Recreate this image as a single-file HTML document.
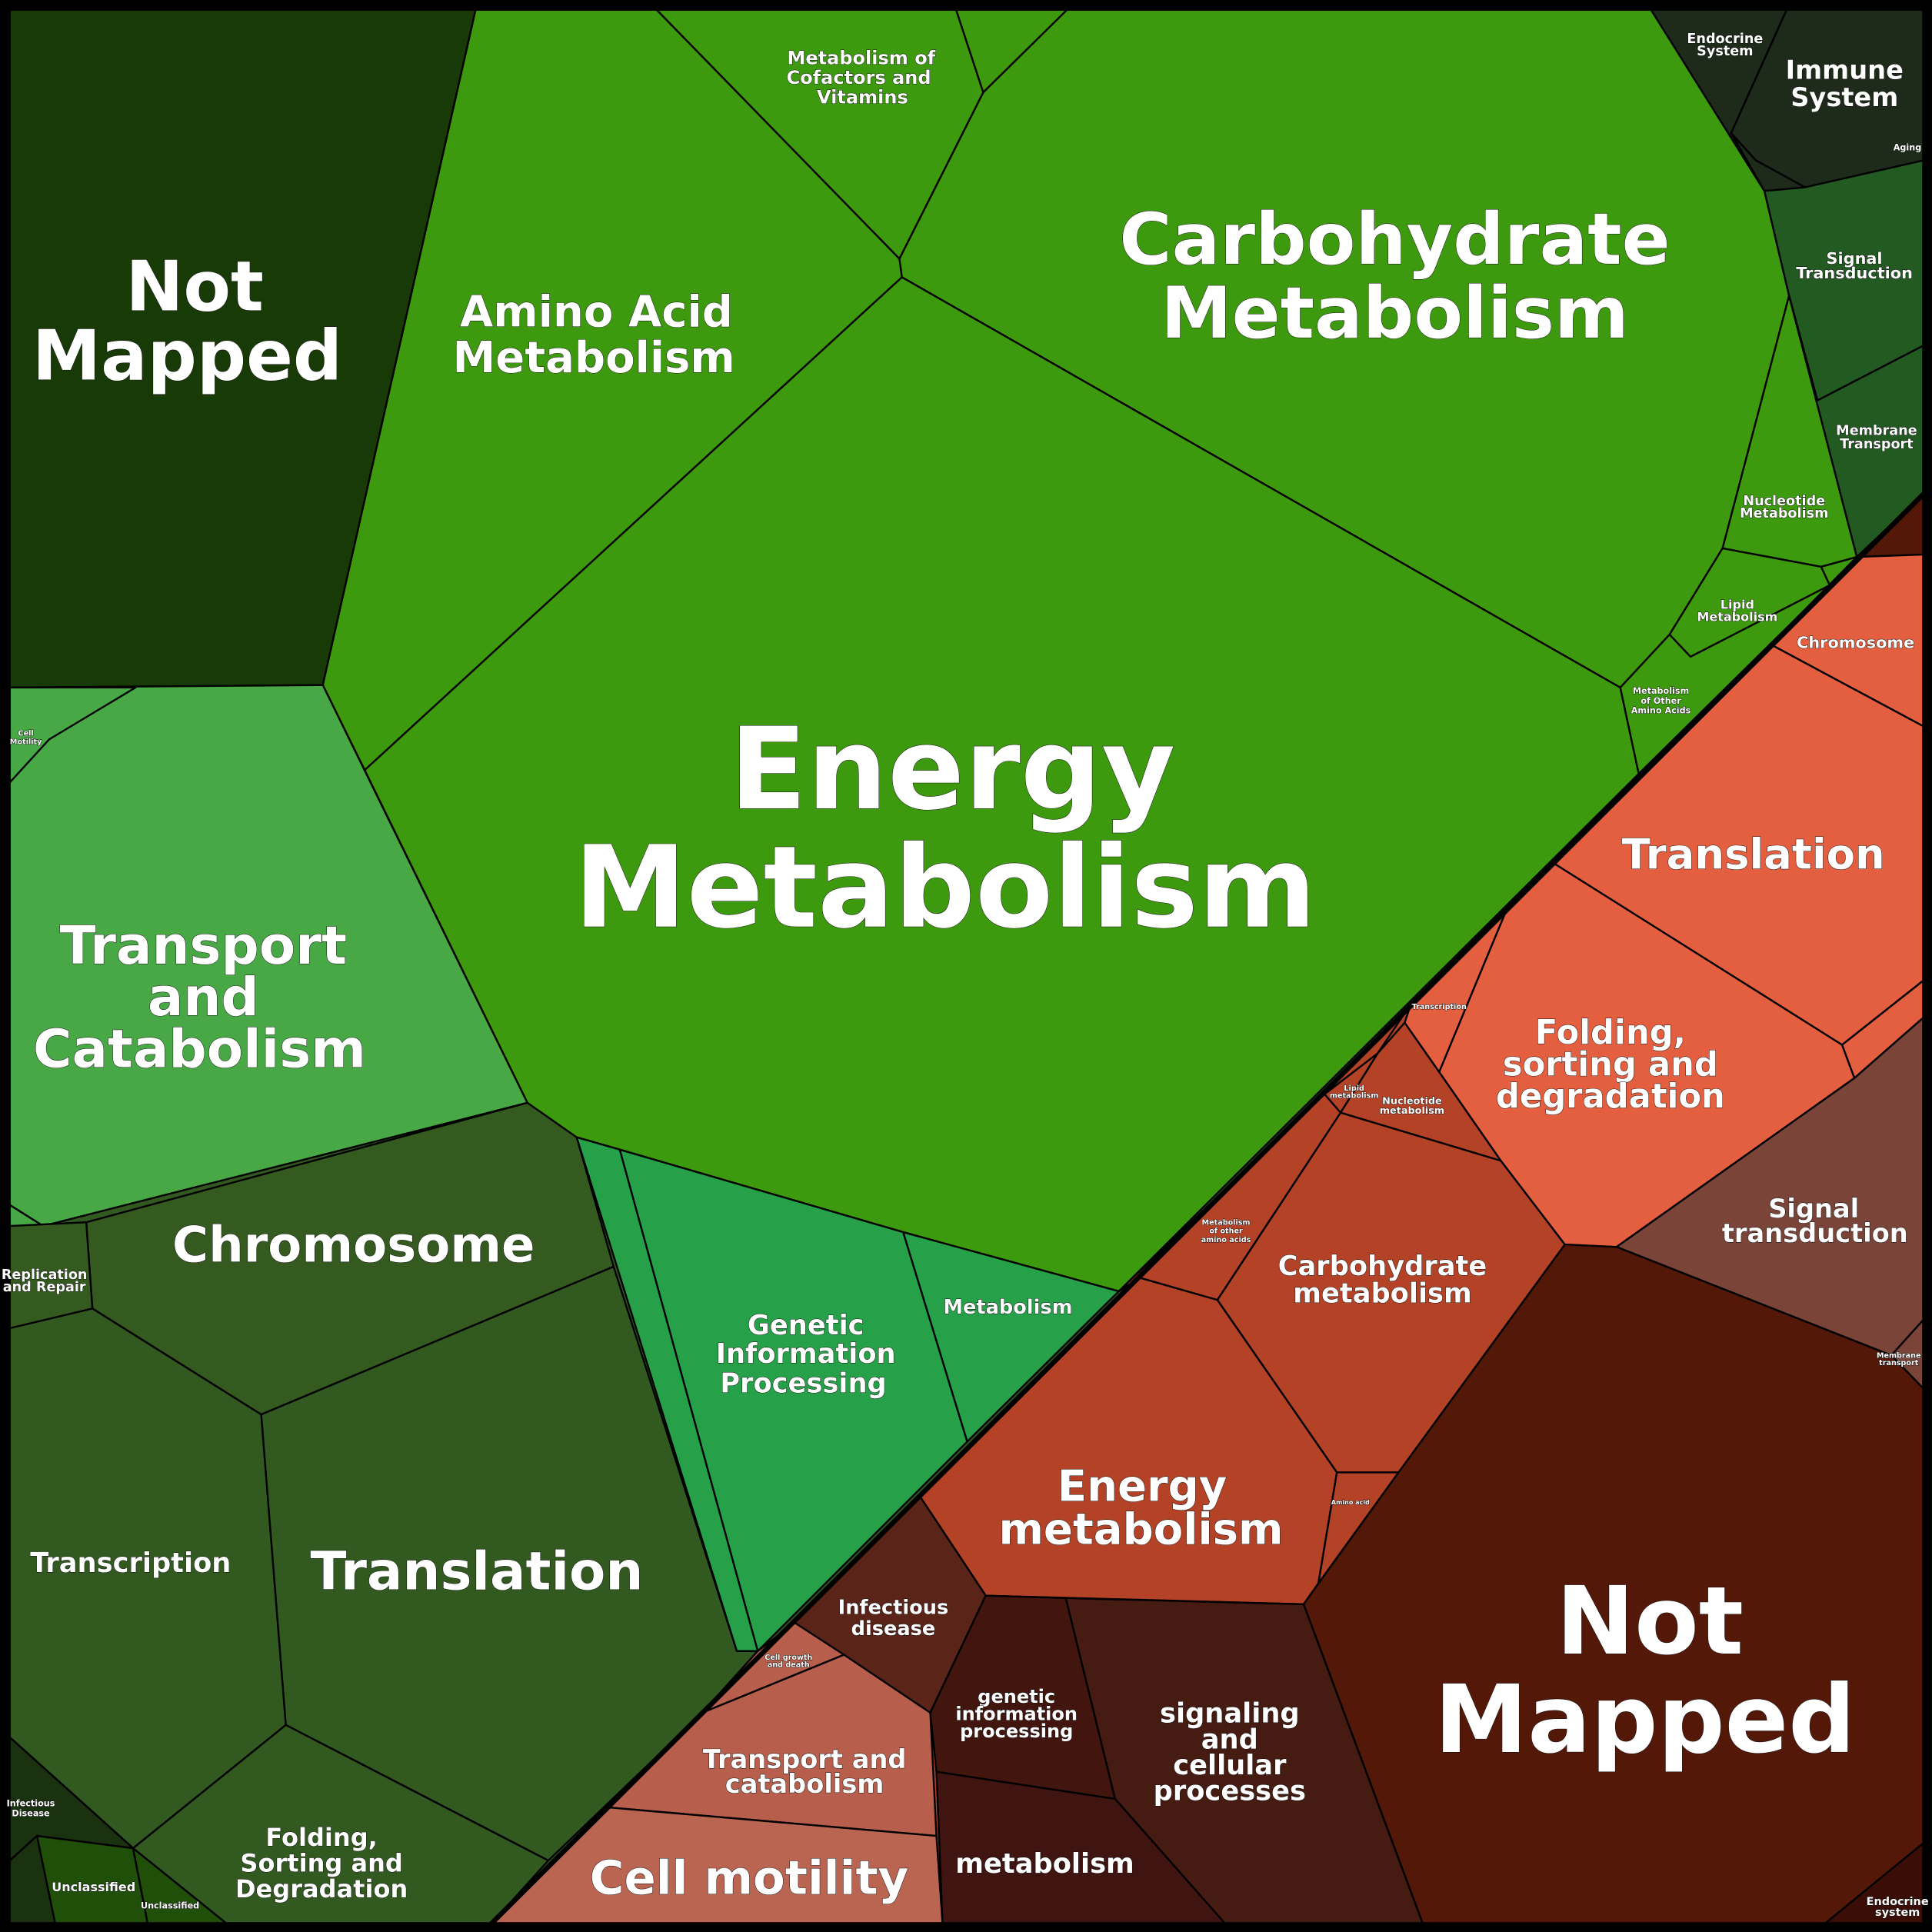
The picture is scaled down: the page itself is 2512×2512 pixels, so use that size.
<!DOCTYPE html>
<html><head><meta charset="utf-8"><style>
html,body{margin:0;padding:0;background:#000}
svg{display:block}
text{font-family:"DejaVu Sans","Liberation Sans",sans-serif;font-weight:bold;fill:#fff;text-anchor:middle;paint-order:stroke;stroke:#111;stroke-width:0.6px}
</style></head><body>
<svg width="2512" height="2512" viewBox="0 0 1568 1568" xmlns="http://www.w3.org/2000/svg">
<rect width="1568" height="1568" fill="#000"/>
<polygon fill="#325a20" points="8,8 1562,8 1562,400 398,1562 8,1562"/>
<polygon fill="#b34226" points="398,1562 1562,400 1562,1562"/>
<g stroke="#000" stroke-width="1.5" stroke-linejoin="round">
<!-- green -->
<polygon fill="#173a06" points="8,8 386,8 262,556 8,558"/>
<polygon fill="#3d9a0e" points="386,8 533,8 730,210 732,225 296,625 262,556"/>
<polygon fill="#3d9a0e" points="533,8 776,8 798,75 730,210"/>
<polygon fill="#3d9a0e" points="776,8 866,8 798,75"/>
<polygon fill="#3d9a0e" points="866,8 1340,8 1432,155 1452,240 1398,445 1355,515 1315,558 732,225 730,210 798,75"/>
<polygon fill="#3d9a0e" points="296,625 732,225 1315,558 1330,628 908,1048 733,1000 503,933 468,923 428,895"/>
<polygon fill="#3d9a0e" points="1452,240 1507,452 1478,460 1398,445"/>
<polygon fill="#3d9a0e" points="1478,460 1507,452 1485,475"/>
<polygon fill="#3d9a0e" points="1398,445 1478,460 1485,475 1372,533 1355,515"/>
<polygon fill="#3d9a0e" points="1355,515 1372,533 1485,475 1330,628 1315,558"/>
<polygon fill="#1e2a1a" points="1340,8 1450,8 1405,108 1432,155"/>
<polygon fill="#1e2a1a" points="1405,108 1425,130 1465,152 1432,155"/>
<polygon fill="#1e2a1a" points="1450,8 1562,8 1562,130 1465,152 1425,130 1405,108"/>
<polygon fill="#225a22" points="1432,155 1465,152 1562,130 1562,280 1475,325 1452,240"/>
<polygon fill="#225a22" points="1452,240 1475,325 1562,280 1562,400 1507,452"/>
<polygon fill="#48a845" points="8,558 262,556 428,895 35,995 8,978"/>
<polygon fill="#48a845" points="8,978 35,995 8,995"/>
<polygon fill="#48a845" points="8,558 110,558 40,600 8,635"/>
<polygon fill="#345a20" points="70,992 428,895 468,923 498,1028 212,1148 75,1062"/>
<polygon fill="#345a20" points="8,995 70,992 75,1062 8,1078"/>
<polygon fill="#325a20" points="8,1078 75,1062 212,1148 232,1400 108,1500 8,1410"/>
<polygon fill="#325a20" points="212,1148 498,1028 598,1340 615,1340 570,1390 445,1510 232,1400"/>
<polygon fill="#325a20" points="232,1400 445,1510 398,1562 185,1562 108,1500"/>
<polygon fill="#1a3210" points="8,1410 108,1500 30,1490 8,1510"/>
<polygon fill="#1a3210" points="8,1510 30,1490 45,1562 8,1562"/>
<polygon fill="#1f4f08" points="30,1490 108,1500 120,1562 45,1562"/>
<polygon fill="#1f4f08" points="108,1500 185,1562 120,1562"/>
<polygon fill="#27a04a" points="468,923 503,933 615,1340 598,1340"/>
<polygon fill="#27a04a" points="503,933 733,1000 785,1170 615,1340"/>
<polygon fill="#27a04a" points="733,1000 908,1048 785,1170"/>
<!-- red -->
<polygon fill="#531808" points="1507,452 1562,400 1562,450 1525,452"/>
<polygon fill="#e35f40" points="1437,523 1507,452 1562,450 1562,590"/>
<polygon fill="#e45e40" points="1437,523 1562,590 1562,795 1495,848 1260,700 1330,628"/>
<polygon fill="#e45e40" points="1495,848 1562,795 1562,825 1505,875"/>
<polygon fill="#e45e40" points="1222,740 1260,700 1495,848 1505,875 1312,1012 1270,1010 1218,942 1168,870"/>
<polygon fill="#e45e40" points="1145,815 1222,740 1168,870 1140,830"/>
<polygon fill="#7a4438" points="1505,875 1562,825 1562,1070 1535,1100 1312,1012"/>
<polygon fill="#7a4438" points="1535,1100 1562,1070 1562,1128"/>
<polygon fill="#531808" points="1270,1010 1312,1012 1535,1100 1562,1128 1562,1562 1155,1562 1058,1302 1135,1195"/>
<polygon fill="#b34226" points="988,1055 1088,903 1218,942 1270,1010 1135,1195 1085,1195"/>
<polygon fill="#b34226" points="925,1037 988,1055 1085,1195 1070,1285 1058,1302 800,1295 747,1215"/>
<polygon fill="#b34226" points="1085,1195 1135,1195 1070,1285"/>
<polygon fill="#b34226" points="908,1048 1075,888 1088,903 988,1055 925,1037"/>
<polygon fill="#b34226" points="1088,903 1118,855 1140,830 1168,870 1218,942"/>
<polygon fill="#b34226" points="1075,888 1118,855 1088,903"/>
<polygon fill="#b34226" points="1118,855 1145,815 1140,830"/>
<polygon fill="#5a2418" points="747,1215 800,1295 755,1390 645,1317"/>
<polygon fill="#42160e" points="800,1295 865,1297 905,1460 760,1438 755,1390"/>
<polygon fill="#461b12" points="865,1297 1058,1302 1155,1562 995,1562 905,1460"/>
<polygon fill="#401410" points="760,1438 905,1460 995,1562 765,1562"/>
<polygon fill="#b85e4c" points="645,1317 685,1343 570,1390 615,1340"/>
<polygon fill="#b85e4c" points="570,1390 685,1343 755,1390 760,1490 495,1467"/>
<polygon fill="#ba6452" points="495,1467 760,1490 765,1562 398,1562"/>
<polygon fill="#3a0e06" points="1480,1562 1562,1495 1562,1562"/>
</g>
<line x1="398" y1="1562" x2="1562" y2="400" stroke="#000" stroke-width="4"/>
<rect x="4" y="4" width="1560" height="1560" fill="none" stroke="#000" stroke-width="8"/>
<!-- labels -->
<text x="158" y="252" font-size="56">Not</text>
<text x="152" y="308" font-size="56">Mapped</text>
<text x="484" y="265" font-size="35">Amino Acid</text>
<text x="482" y="302" font-size="35">Metabolism</text>
<text x="699" y="52" font-size="15">Metabolism of</text>
<text x="697" y="68" font-size="15">Cofactors and</text>
<text x="700" y="84" font-size="15">Vitamins</text>
<text x="1132" y="214" font-size="58">Carbohydrate</text>
<text x="1132" y="274" font-size="58">Metabolism</text>
<text x="773" y="656" font-size="92">Energy</text>
<text x="767" y="752" font-size="92">Metabolism</text>
<text x="1400" y="35" font-size="11">Endocrine</text>
<text x="1400" y="45" font-size="11">System</text>
<text x="1497" y="64" font-size="21">Immune</text>
<text x="1497" y="86" font-size="21">System</text>
<text x="1548" y="122" font-size="7">Aging</text>
<text x="1505" y="214" font-size="13">Signal</text>
<text x="1505" y="226" font-size="13">Transduction</text>
<text x="1523" y="353" font-size="11">Membrane</text>
<text x="1523" y="364" font-size="11">Transport</text>
<text x="1448" y="410" font-size="11">Nucleotide</text>
<text x="1448" y="420" font-size="11">Metabolism</text>
<text x="1410" y="494" font-size="10">Lipid</text>
<text x="1410" y="504" font-size="10">Metabolism</text>
<text x="1348" y="563" font-size="7">Metabolism</text>
<text x="1348" y="571" font-size="7">of Other</text>
<text x="1348" y="579" font-size="7">Amino Acids</text>
<text x="21" y="597" font-size="6">Cell</text>
<text x="21" y="604" font-size="6">Motility</text>
<text x="165" y="782" font-size="43">Transport</text>
<text x="165" y="824" font-size="43">and</text>
<text x="162" y="866" font-size="43">Catabolism</text>
<text x="287" y="1024" font-size="40">Chromosome</text>
<text x="36" y="1038" font-size="11">Replication</text>
<text x="36" y="1048" font-size="11">and Repair</text>
<text x="106" y="1276" font-size="22">Transcription</text>
<text x="387" y="1290" font-size="43">Translation</text>
<text x="261" y="1498" font-size="20">Folding,</text>
<text x="261" y="1519" font-size="20">Sorting and</text>
<text x="261" y="1540" font-size="20">Degradation</text>
<text x="76" y="1535" font-size="10">Unclassified</text>
<text x="138" y="1549" font-size="7">Unclassified</text>
<text x="25" y="1466" font-size="7">Infectious</text>
<text x="25" y="1474" font-size="7">Disease</text>
<text x="654" y="1083" font-size="22">Genetic</text>
<text x="654" y="1106" font-size="22">Information</text>
<text x="652" y="1130" font-size="22">Processing</text>
<text x="818" y="1066" font-size="16">Metabolism</text>
<text x="1506" y="526" font-size="13">Chromosome</text>
<text x="1423" y="705" font-size="34">Translation</text>
<text x="1168" y="819" font-size="6">Transcription</text>
<text x="1307" y="847" font-size="27">Folding,</text>
<text x="1307" y="873" font-size="27">sorting and</text>
<text x="1307" y="899" font-size="27">degradation</text>
<text x="1472" y="988" font-size="21">Signal</text>
<text x="1473" y="1008" font-size="21">transduction</text>
<text x="1541" y="1102" font-size="6">Membrane</text>
<text x="1541" y="1108" font-size="6">transport</text>
<text x="1122" y="1035" font-size="22">Carbohydrate</text>
<text x="1122" y="1057" font-size="22">metabolism</text>
<text x="1146" y="896" font-size="8">Nucleotide</text>
<text x="1146" y="904" font-size="8">metabolism</text>
<text x="1099" y="885" font-size="6">Lipid</text>
<text x="1099" y="891" font-size="6">metabolism</text>
<text x="995" y="994" font-size="6">Metabolism</text>
<text x="995" y="1001" font-size="6">of other</text>
<text x="995" y="1008" font-size="6">amino acids</text>
<text x="1096" y="1221" font-size="5">Amino acid</text>
<text x="927" y="1218" font-size="35">Energy</text>
<text x="926" y="1253" font-size="35">metabolism</text>
<text x="1339" y="1342" font-size="76">Not</text>
<text x="1335" y="1422" font-size="76">Mapped</text>
<text x="725" y="1310" font-size="16">Infectious</text>
<text x="725" y="1327" font-size="16">disease</text>
<text x="640" y="1347" font-size="6">Cell growth</text>
<text x="640" y="1353" font-size="6">and death</text>
<text x="825" y="1382" font-size="15">genetic</text>
<text x="825" y="1396" font-size="15">information</text>
<text x="825" y="1410" font-size="15">processing</text>
<text x="998" y="1398" font-size="22">signaling</text>
<text x="998" y="1419" font-size="22">and</text>
<text x="998" y="1440" font-size="22">cellular</text>
<text x="998" y="1461" font-size="22">processes</text>
<text x="848" y="1520" font-size="22">metabolism</text>
<text x="653" y="1435" font-size="21">Transport and</text>
<text x="653" y="1455" font-size="21">catabolism</text>
<text x="608" y="1537" font-size="38">Cell motility</text>
<text x="1540" y="1546" font-size="9">Endocrine</text>
<text x="1540" y="1555" font-size="9">system</text>
</svg>
</body></html>
